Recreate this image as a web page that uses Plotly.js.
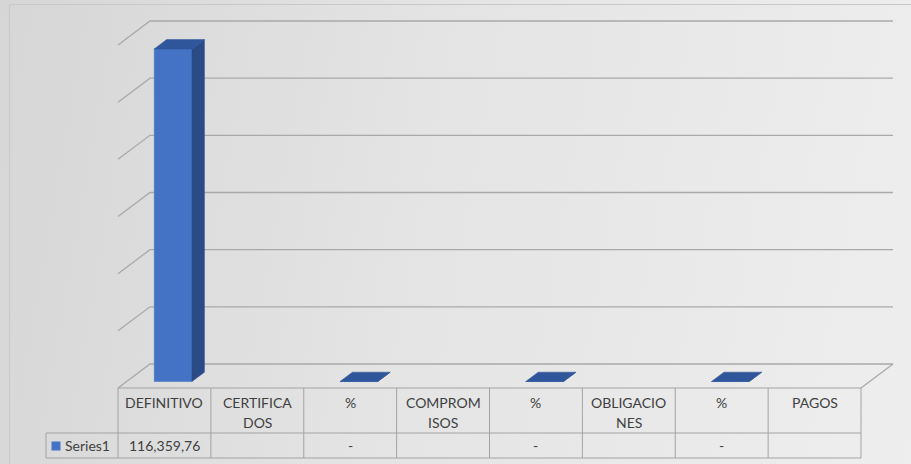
<!DOCTYPE html>
<html>
<head>
<meta charset="utf-8">
<script src="https://cdn.plot.ly/plotly-3.0.1.min.js"></script>
<style>
  html, body { margin: 0; padding: 0; }
  #chart { width: 911px; height: 464px; background: linear-gradient(100deg, #d6d6d6 0%, #e4e4e4 45%, #eeeeee 100%); }
</style>
</head>
<body>
<div id="chart"></div>
<script>
// ---- data ----
const categories = ['DEFINITIVO', 'CERTIFICADOS', '%', 'COMPROMISOS', '%', 'OBLIGACIONES', '%', 'PAGOS'];
const headerLabels = [['DEFINITIVO'], ['CERTIFICA', 'DOS'], ['%'], ['COMPROM', 'ISOS'], ['%'], ['OBLIGACIO', 'NES'], ['%'], ['PAGOS']];
const seriesName = 'Series1';
const values = [116359.76, null, 0, null, 0, null, 0, null];
const yTicks = [0, 20000, 40000, 60000, 80000, 100000, 120000];

// ---- geometry / style ----
const W = 911, H = 464;
const PX0 = 118, CATW = 92.875, FLOORY = 388, UNIT_PX = 57.17 / 20000;
const DEPTH_X = 32, DEPTH_Y = 24;
const DX = DEPTH_X / CATW, DY = DEPTH_Y / UNIT_PX;
const D1 = 0.27, D2 = 0.66, BW = 0.406;
const xAt = px => (px - PX0) / CATW;
const yAt = py => (FLOORY - py) / UNIT_PX;
const proj = (xc, d, v) => [xc + d * DX, v + d * DY];
const n = categories.length;

function fmt(v) {
  if (v === null) return '';
  if (v === 0) return '-';
  const parts = v.toFixed(2).split('.');
  return parts[0].replace(/\B(?=(\d{3})+(?!\d))/g, ',') + ',' + parts[1];
}

function pushSeg(xs, ys, pts) {
  pts.forEach(p => { xs.push(p[0]); ys.push(p[1]); });
  xs.push(null); ys.push(null);
}

// gridlines (back wall + side diagonals) and floor
const gx = [], gy = [];
yTicks.forEach(t => {
  pushSeg(gx, gy, [proj(0, 0, t), proj(0, 1, t), proj(n, 1, t)]);
});
pushSeg(gx, gy, [proj(n, 1, 0), proj(n, 0, 0)]);

// table lines
const tx = [], ty = [];
const rowTop = 0, rowMid = yAt(433), rowBot = yAt(458), legX = xAt(46);
pushSeg(tx, ty, [[0, rowTop], [n, rowTop]]);
pushSeg(tx, ty, [[legX, rowMid], [n, rowMid]]);
pushSeg(tx, ty, [[legX, rowBot], [n, rowBot]]);
pushSeg(tx, ty, [[legX, rowMid], [legX, rowBot]]);
for (let k = 0; k <= n; k++) pushSeg(tx, ty, [[k, rowTop], [k, rowBot]]);

// bar faces (front, side, top) projected from the values
const frx = [], fry = [], sx = [], sy = [], topx = [], topy = [];
values.forEach((v, i) => {
  if (v === null) return;
  const xl = i + 0.5 - BW / 2, xr = i + 0.5 + BW / 2;
  pushSeg(frx, fry, [proj(xl, D1, 0), proj(xr, D1, 0), proj(xr, D1, v), proj(xl, D1, v), proj(xl, D1, 0)]);
  pushSeg(sx, sy, [proj(xr, D1, 0), proj(xr, D2, 0), proj(xr, D2, v), proj(xr, D1, v), proj(xr, D1, 0)]);
  pushSeg(topx, topy, [proj(xl, D1, v), proj(xr, D1, v), proj(xr, D2, v), proj(xl, D2, v), proj(xl, D1, v)]);
});

const FONT = { family: 'Lato, "Open Sans", sans-serif', size: 14, color: '#404040' };

const traces = [
  { type: 'scatter', mode: 'lines', x: gx, y: gy, line: { color: '#a9a9a9', width: 1.3 }, hoverinfo: 'skip', showlegend: false },
  { type: 'scatter', mode: 'lines', x: tx, y: ty, line: { color: '#a3a3a3', width: 1 }, hoverinfo: 'skip', showlegend: false },
  { type: 'scatter', mode: 'lines', name: seriesName, x: frx, y: fry, fill: 'toself', fillcolor: '#4472c4', line: { color: '#4472c4', width: 0.5 }, hoverinfo: 'skip', showlegend: false },
  { type: 'scatter', mode: 'lines', x: sx, y: sy, fill: 'toself', fillcolor: '#2b4b87', line: { color: '#2b4b87', width: 0.5 }, hoverinfo: 'skip', showlegend: false },
  { type: 'scatter', mode: 'lines', x: topx, y: topy, fill: 'toself', fillcolor: '#2f559b', line: { color: '#2f559b', width: 0.5 }, hoverinfo: 'skip', showlegend: false },
  { type: 'scatter', mode: 'markers', x: [xAt(56)], y: [yAt(446)], marker: { symbol: 'square', size: 9, color: '#4472c4' }, hoverinfo: 'skip', showlegend: false }
];

const annotations = [];
headerLabels.forEach((lines, i) => {
  lines.forEach((txt, j) => {
    annotations.push({ x: i + 0.5, y: yAt(402 + j * 20.5), xref: 'x', yref: 'y', text: txt, showarrow: false, font: FONT, xanchor: 'center', yanchor: 'middle' });
  });
});
values.forEach((v, i) => {
  const s = fmt(v);
  if (s) annotations.push({ x: i + 0.5, y: yAt(445.5), xref: 'x', yref: 'y', text: s, showarrow: false, font: FONT, xanchor: 'center', yanchor: 'middle' });
});
annotations.push({ x: xAt(63), y: yAt(445.5), xref: 'x', yref: 'y', text: seriesName, showarrow: false, font: FONT, xanchor: 'left', yanchor: 'middle' });

const layout = {
  width: W, height: H,
  margin: { l: 0, r: 0, t: 0, b: 0, pad: 0 },
  paper_bgcolor: 'rgba(0,0,0,0)', plot_bgcolor: 'rgba(0,0,0,0)',
  xaxis: { range: [xAt(0), xAt(W)], visible: false, fixedrange: true },
  yaxis: { range: [yAt(H), yAt(0)], visible: false, fixedrange: true },
  showlegend: false,
  annotations: annotations,
  shapes: [{ type: 'rect', xref: 'paper', yref: 'paper', x0: 9.5 / W, x1: 1.2, y0: -0.2, y1: 1 - 4.5 / H, line: { color: '#c8c8c8', width: 1 }, fillcolor: 'rgba(0,0,0,0)' }]
};

Plotly.newPlot('chart', traces, layout, { staticPlot: true, displayModeBar: false });
</script>
</body>
</html>
